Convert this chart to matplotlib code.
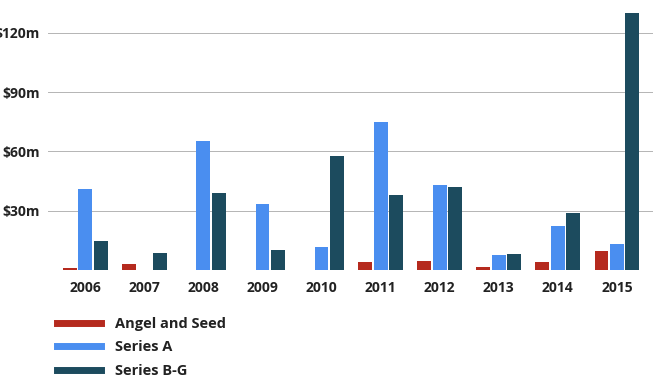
import numpy as np
import matplotlib.pyplot as plt
from matplotlib.lines import Line2D

years = ["2006", "2007", "2008", "2009", "2010", "2011", "2012", "2013", "2014", "2015"]
angel_seed = [1.0, 3.0, 0, 0, 0, 3.9, 4.5, 1.5, 4.0, 9.5]
series_a = [40.8, 0, 65.3, 33.4, 11.5, 74.7, 42.8, 7.4, 22.3, 13.2]
series_bg = [14.5, 8.4, 39.0, 10.0, 57.8, 38.0, 41.8, 7.9, 28.8, 129.8]
yticks = [30, 60, 90, 120]
ytick_labels = ["$30m", "$60m", "$90m", "$120m"]

labels = ["Angel and Seed", "Series A", "Series B-G"]
colors = ["#b52a1e", "#4a8ef0", "#1c4b5e"]

plt.rcParams['font.family'] = ['Open Sans', 'DejaVu Sans']

fig = plt.figure(figsize=(6.59, 3.89), dpi=100)
ax = fig.add_axes([48 / 659, 1 - 270 / 389, 605 / 659, 265 / 389])

x = np.arange(len(years))
w = 0.235
off = 0.262
for i, vals in enumerate([angel_seed, series_a, series_bg]):
    ax.bar(x + (i - 1) * off, vals, width=w, color=colors[i], zorder=3)

ax.set_xlim(-0.63, 9.61)
ax.set_ylim(0, 134)
ax.set_yticks(yticks)
ax.set_yticklabels(ytick_labels)
ax.set_xticks(x)
ax.set_xticklabels(years)
ax.yaxis.grid(True, color="#b4b4b4", linewidth=0.7)
ax.set_axisbelow(True)
for s in ax.spines.values():
    s.set_visible(False)
ax.tick_params(axis="both", length=0, labelsize=10, colors="#222222")
ax.tick_params(axis="y", pad=6)
ax.tick_params(axis="x", pad=8)
for t in ax.get_xticklabels() + ax.get_yticklabels():
    t.set_fontweight("bold")

handles = [Line2D([0], [0], color=c, lw=5) for c in colors]
leg = fig.legend(handles, labels, loc="upper left",
                 bbox_to_anchor=(57 / 659, 1 - 317 / 389),
                 frameon=False, borderpad=0, borderaxespad=0,
                 handlelength=3.0, handletextpad=1.0, labelspacing=0.65,
                 prop={"size": 10.5, "weight": "bold"})
for t in leg.get_texts():
    t.set_color("#222222")

fig.savefig("out.png", dpi=100)
